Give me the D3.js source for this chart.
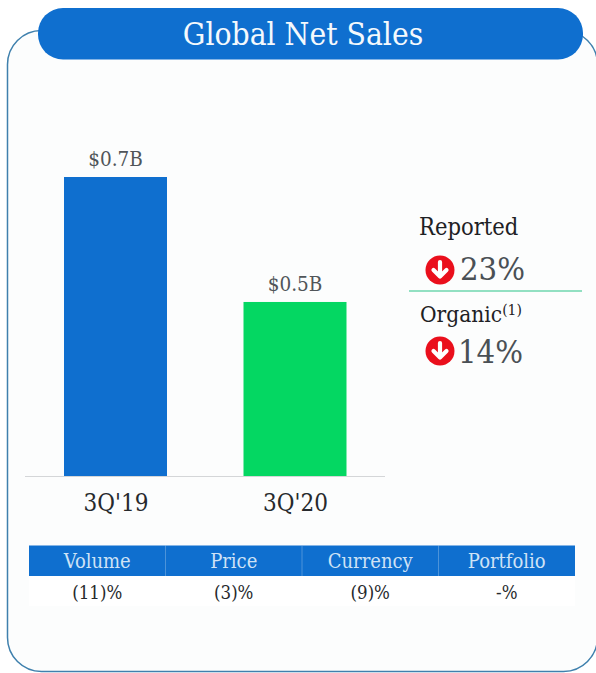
<!DOCTYPE html>
<html>
<head>
<meta charset="utf-8">
<style>
html,body{margin:0;padding:0;background:#fff;}
svg{display:block;}
text{font-family:"DejaVu Serif",serif;font-stretch:condensed;}
</style>
<script src="https://cdn.jsdelivr.net/npm/d3@7/dist/d3.min.js"></script>
</head>
<body>
<svg id="chart" width="596" height="673"></svg>
<script>
const chartTitle = "Global Net Sales";
const quarters = ["3Q'19", "3Q'20"];
const netSales = [0.7, 0.5];
const barLabels = ["$0.7B", "$0.5B"];
const barColors = ["#0f6fcf", "#04d762"];
const driverNames = ["Volume", "Price", "Currency", "Portfolio"];
const driverValues = ["(11)%", "(3)%", "(9)%", "-%"];
const changeNames = ["Reported", "Organic"];
const changeValues = ["23%", "14%"];

const svg = d3.select("#chart");

// Rounded panel behind everything
svg.append("rect")
  .attr("x", 7.5).attr("y", 30.5).attr("width", 590).attr("height", 641)
  .attr("rx", 34)
  .attr("fill", "#fcfdfd").attr("stroke", "#3f80ad").attr("stroke-width", 1.5);

// Title pill
svg.append("rect")
  .attr("x", 38).attr("y", 8).attr("width", 545).attr("height", 51.5)
  .attr("rx", 25)
  .attr("fill", "#0f6fcf");
svg.append("text")
  .attr("x", 303).attr("y", 45)
  .attr("text-anchor", "middle")
  .attr("fill", "#f4f9fd").attr("font-size", 31.5)
  .text(chartTitle);

// Bars
const barX = d3.scalePoint().domain(quarters).range([115.5, 295]);
const y = d3.scaleLinear().domain([0.2215, 0.7]).range([476, 177]);
const barWidth = 103;

const bars = svg.append("g");
bars.selectAll("rect").data(quarters).join("rect")
  .attr("x", d => barX(d) - barWidth / 2)
  .attr("y", (d, i) => y(netSales[i]))
  .attr("width", barWidth)
  .attr("height", (d, i) => y.range()[0] - y(netSales[i]))
  .attr("fill", (d, i) => barColors[i]);

bars.selectAll("text.value").data(quarters).join("text")
  .attr("class", "value")
  .attr("x", d => barX(d))
  .attr("y", (d, i) => y(netSales[i]) - 11)
  .attr("text-anchor", "middle")
  .attr("fill", "#505559").attr("font-size", 20.5)
  .text((d, i) => barLabels[i]);

// Category axis
const axis = svg.append("g")
  .attr("transform", `translate(0,${y.range()[0] + 0.5})`)
  .call(d3.axisBottom(barX).tickSize(0).tickPadding(17));
axis.select(".domain").attr("d", "M25,0H385").attr("stroke", "#d4d6d8").attr("stroke-width", 1);
axis.selectAll("text")
  .attr("fill", "#26292c").attr("font-size", 24)
  .style("font-family", '"DejaVu Serif",serif');

// Change callouts
const calloutText = [
  { x: 419, y: 235, size: 23.5 },
  { x: 420, y: 322, size: 22.5 }
];
const calloutValue = [
  { cx: 440, cy: 270, tx: 460, ty: 280 },
  { cx: 440, cy: 351, tx: 458, ty: 363 }
];
changeNames.forEach((name, i) => {
  const t = svg.append("text")
    .attr("x", calloutText[i].x).attr("y", calloutText[i].y)
    .attr("fill", "#1e2124").attr("font-size", calloutText[i].size)
    .text(name);
  if (i === 1) {
    t.append("tspan").attr("font-size", 15.5).attr("dy", -7).text("(1)");
  }
  const a = calloutValue[i];
  const g = svg.append("g").attr("transform", `translate(${a.cx},${a.cy})`);
  g.append("circle").attr("r", 14.5).attr("fill", "#ea0f1c");
  g.append("path")
    .attr("d", "M0,-8V5M-6.5,0L0,6.5L6.5,0")
    .attr("fill", "none").attr("stroke", "#fff")
    .attr("stroke-width", 4.2).attr("stroke-linecap", "round").attr("stroke-linejoin", "round");
  svg.append("text")
    .attr("x", a.tx).attr("y", a.ty)
    .attr("fill", "#4a5055").attr("font-size", 32.5)
    .text(changeValues[i]);
});
svg.append("line")
  .attr("x1", 409).attr("x2", 582).attr("y1", 291).attr("y2", 291)
  .attr("stroke", "#6fd6ae").attr("stroke-width", 1.5);

// Driver table
const col = d3.scaleBand().domain(driverNames).range([29, 575]);
const table = svg.append("g");
table.append("rect")
  .attr("x", 29).attr("y", 576).attr("width", 546).attr("height", 30)
  .attr("fill", "#ffffff");
table.selectAll("rect.head").data(driverNames).join("rect")
  .attr("class", "head")
  .attr("x", d => col(d)).attr("y", 545.5)
  .attr("width", col.bandwidth()).attr("height", 30.5)
  .attr("fill", "#0f6fcf");
table.selectAll("line").data(driverNames.slice(1)).join("line")
  .attr("x1", d => col(d)).attr("x2", d => col(d))
  .attr("y1", 546).attr("y2", 576)
  .attr("stroke", "#4c93d9").attr("stroke-width", 1);
table.selectAll("text.head").data(driverNames).join("text")
  .attr("class", "head")
  .attr("x", d => col(d) + col.bandwidth() / 2).attr("y", 568)
  .attr("text-anchor", "middle")
  .attr("fill", "#cfe3f6").attr("font-size", 20)
  .text(d => d);
table.selectAll("text.val").data(driverNames).join("text")
  .attr("class", "val")
  .attr("x", d => col(d) + col.bandwidth() / 2).attr("y", 599)
  .attr("text-anchor", "middle")
  .attr("fill", "#26292c").attr("font-size", 18.5)
  .text((d, i) => driverValues[i]);
</script>
</body>
</html>
